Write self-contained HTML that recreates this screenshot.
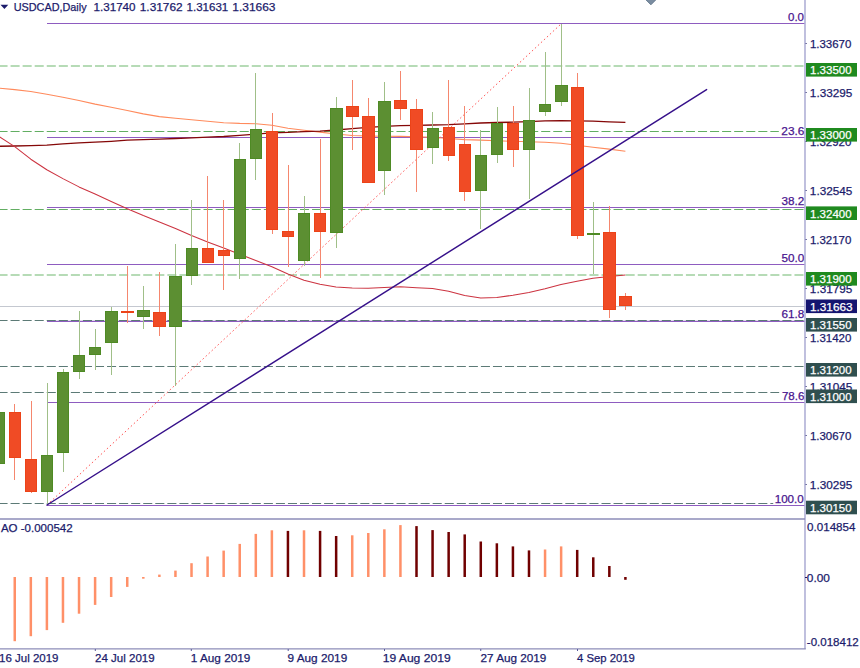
<!DOCTYPE html><html><head><meta charset="utf-8"><style>html,body{margin:0;padding:0;background:#fff;width:860px;height:668px;overflow:hidden}svg{display:block}text{font-family:'Liberation Sans', sans-serif;font-size:11.5px}</style></head><body>
<svg width="860" height="668" viewBox="0 0 860 668">
<rect x="0" y="0" width="860" height="668" fill="#ffffff"/>
<line x1="0" y1="306.5" x2="805" y2="306.5" stroke="#c4c8d0" stroke-width="1.2"/>
<line x1="-1.5" y1="66.0" x2="805" y2="66.0" stroke="#9fd09f" stroke-width="1.6" stroke-dasharray="9.06 3"/>
<line x1="-1.5" y1="131.5" x2="805" y2="131.5" stroke="#62ae62" stroke-width="1.1" stroke-dasharray="9.06 3"/>
<line x1="-1.5" y1="209.5" x2="805" y2="209.5" stroke="#62ae62" stroke-width="1.1" stroke-dasharray="9.06 3"/>
<line x1="-1.5" y1="275.0" x2="805" y2="275.0" stroke="#9fd09f" stroke-width="1.6" stroke-dasharray="9.06 3"/>
<line x1="-1.5" y1="366.5" x2="805" y2="366.5" stroke="#5c7a76" stroke-width="1.2" stroke-dasharray="9.06 3"/>
<line x1="-1.5" y1="392.5" x2="805" y2="392.5" stroke="#5c7a76" stroke-width="1.2" stroke-dasharray="9.06 3"/>
<line x1="-1.5" y1="503.5" x2="805" y2="503.5" stroke="#5c7a76" stroke-width="1.2" stroke-dasharray="9.06 3"/>
<line x1="47" y1="23.5" x2="805" y2="23.5" stroke="#8e5cc0" stroke-width="1.2"/>
<line x1="47" y1="137.5" x2="805" y2="137.5" stroke="#8e5cc0" stroke-width="1.2"/>
<line x1="47" y1="207.5" x2="805" y2="207.5" stroke="#8e5cc0" stroke-width="1.2"/>
<line x1="47" y1="264.5" x2="805" y2="264.5" stroke="#8e5cc0" stroke-width="1.2"/>
<line x1="47" y1="321.4" x2="805" y2="321.4" stroke="#8e5cc0" stroke-width="1.2"/>
<line x1="47" y1="402.5" x2="805" y2="402.5" stroke="#8e5cc0" stroke-width="1.2"/>
<line x1="47" y1="505.5" x2="805" y2="505.5" stroke="#8e5cc0" stroke-width="1.2"/>
<line x1="-1.5" y1="320.5" x2="805" y2="320.5" stroke="#5c7a76" stroke-width="1.0" stroke-dasharray="9.06 3"/>
<polyline points="-1.4,88.1 14.7,89.6 30.8,91.5 46.8,94.3 62.9,97.3 79,100.5 95.1,104.1 111.2,107.2 127.3,110.5 143.3,113.9 159.4,116.6 175.5,118.3 191.5,119.7 207.6,121.2 223.7,122.7 239.7,123.4 255.8,123.7 271.9,125.2 287.9,128.2 304,130.2 320,132.1 336,134.0 352.2,135.5 368.2,136.0 384.3,136.2 400.4,136.4 416.5,136.8 432.5,137.3 448.6,138.5 464.7,139.6 480.7,140.1 496.8,140.7 512.9,141.3 528.9,141.8 545,142.2 561,143.3 577,145.2 593,147.2 609.3,149.1 625.4,151.3" fill="none" stroke="#ff8a5c" stroke-width="1.1" stroke-linejoin="round"/>
<polyline points="-1.4,146.3 14.7,146.0 30.8,145.6 46.8,145.1 62.9,143.9 79,142.9 95.1,142.2 111.2,141.3 127.3,140.2 143.3,139.6 159.4,139.1 175.5,138.5 191.5,137.9 207.6,137.1 223.7,136.5 239.7,135.3 255.8,134.2 271.9,132.9 287.9,132.3 304,131.6 320,131.1 336,130.0 352.2,128.7 368.2,127.4 384.3,126.3 400.4,125.6 416.5,125.3 432.5,125.0 448.6,124.6 464.7,123.8 480.7,123.0 496.8,122.5 512.9,122.2 528.9,121.6 545,120.9 561,120.6 577,120.8 593,121.2 609.3,121.8 625.4,122.3" fill="none" stroke="#850808" stroke-width="1.35" stroke-linejoin="round"/>
<polyline points="-1.4,136.2 14.7,146.6 30.8,159.2 46.8,169.7 62.9,178.6 79,186.9 95.1,194.1 111.2,201.5 127.3,208.8 143.3,215.6 159.4,222.0 175.5,228.6 191.5,235.6 207.6,242.0 223.7,248.0 239.7,254.2 255.8,260.5 271.9,266.8 287.9,274.0 304,280.2 320,284.3 336,286.9 352.2,288.1 368.2,288.3 384.3,287.5 400.4,286.8 416.5,287.8 432.5,288.6 448.6,291.2 464.7,295.5 480.7,298.1 496.8,297.6 512.9,295.2 528.9,292.4 545,288.7 561,284.4 577,281.2 593,278.3 609.3,276.6 625.4,275.1" fill="none" stroke="#cc3340" stroke-width="1.05" stroke-linejoin="round"/>
<line x1="47" y1="505" x2="561.5" y2="23.5" stroke="#ff5a5a" stroke-width="1" stroke-dasharray="1.6 2.5"/>
<rect x="-7" y="412" width="12" height="52" fill="#4e8a24"/>
<rect x="-6" y="413" width="10" height="50" fill="#5c8f32"/>
<rect x="14" y="404" width="1" height="8" fill="#f5876e"/>
<rect x="14" y="458" width="1" height="22" fill="#f5876e"/>
<rect x="9" y="412" width="12" height="46" fill="#ec4318"/>
<rect x="10" y="413" width="10" height="44" fill="#f04b25"/>
<rect x="31" y="401" width="1" height="58" fill="#f5876e"/>
<rect x="31" y="492" width="1" height="1" fill="#f5876e"/>
<rect x="25" y="459" width="12" height="33" fill="#ec4318"/>
<rect x="26" y="460" width="10" height="31" fill="#f04b25"/>
<rect x="47" y="383" width="1" height="72" fill="#a0bf88"/>
<rect x="47" y="492" width="1" height="13" fill="#a0bf88"/>
<rect x="41" y="455" width="12" height="37" fill="#4e8a24"/>
<rect x="42" y="456" width="10" height="35" fill="#5c8f32"/>
<rect x="63" y="369" width="1" height="3" fill="#a0bf88"/>
<rect x="63" y="453" width="1" height="19" fill="#a0bf88"/>
<rect x="57" y="372" width="12" height="81" fill="#4e8a24"/>
<rect x="58" y="373" width="10" height="79" fill="#5c8f32"/>
<rect x="79" y="311" width="1" height="44" fill="#a0bf88"/>
<rect x="79" y="372" width="1" height="7" fill="#a0bf88"/>
<rect x="73" y="355" width="12" height="17" fill="#4e8a24"/>
<rect x="74" y="356" width="10" height="15" fill="#5c8f32"/>
<rect x="95" y="329" width="1" height="18" fill="#a0bf88"/>
<rect x="95" y="355" width="1" height="15" fill="#a0bf88"/>
<rect x="89" y="347" width="12" height="8" fill="#4e8a24"/>
<rect x="90" y="348" width="10" height="6" fill="#5c8f32"/>
<rect x="111" y="307" width="1" height="4" fill="#a0bf88"/>
<rect x="111" y="343" width="1" height="32" fill="#a0bf88"/>
<rect x="105" y="311" width="13" height="32" fill="#4e8a24"/>
<rect x="106" y="312" width="11" height="30" fill="#5c8f32"/>
<rect x="127" y="266" width="1" height="45" fill="#f5876e"/>
<rect x="127" y="313" width="1" height="10" fill="#f5876e"/>
<rect x="121" y="311" width="13" height="2" fill="#ec4318"/>
<rect x="143" y="286" width="1" height="24" fill="#a0bf88"/>
<rect x="143" y="317" width="1" height="12" fill="#a0bf88"/>
<rect x="137" y="310" width="13" height="7" fill="#4e8a24"/>
<rect x="138" y="311" width="11" height="5" fill="#5c8f32"/>
<rect x="159" y="272" width="1" height="40" fill="#f5876e"/>
<rect x="159" y="327" width="1" height="9" fill="#f5876e"/>
<rect x="153" y="312" width="13" height="15" fill="#ec4318"/>
<rect x="154" y="313" width="11" height="13" fill="#f04b25"/>
<rect x="175" y="244" width="1" height="32" fill="#a0bf88"/>
<rect x="175" y="327" width="1" height="59" fill="#a0bf88"/>
<rect x="169" y="276" width="13" height="51" fill="#4e8a24"/>
<rect x="170" y="277" width="11" height="49" fill="#5c8f32"/>
<rect x="191" y="200" width="1" height="48" fill="#a0bf88"/>
<rect x="191" y="276" width="1" height="9" fill="#a0bf88"/>
<rect x="186" y="248" width="12" height="28" fill="#4e8a24"/>
<rect x="187" y="249" width="10" height="26" fill="#5c8f32"/>
<rect x="207" y="176" width="1" height="72" fill="#f5876e"/>
<rect x="202" y="248" width="12" height="15" fill="#ec4318"/>
<rect x="203" y="249" width="10" height="13" fill="#f04b25"/>
<rect x="223" y="200" width="1" height="50" fill="#f5876e"/>
<rect x="223" y="256" width="1" height="34" fill="#f5876e"/>
<rect x="218" y="250" width="12" height="6" fill="#ec4318"/>
<rect x="219" y="251" width="10" height="4" fill="#f04b25"/>
<rect x="239" y="143" width="1" height="16" fill="#a0bf88"/>
<rect x="239" y="259" width="1" height="20" fill="#a0bf88"/>
<rect x="234" y="159" width="12" height="100" fill="#4e8a24"/>
<rect x="235" y="160" width="10" height="98" fill="#5c8f32"/>
<rect x="255" y="73" width="1" height="56" fill="#a0bf88"/>
<rect x="255" y="159" width="1" height="21" fill="#a0bf88"/>
<rect x="250" y="129" width="12" height="30" fill="#4e8a24"/>
<rect x="251" y="130" width="10" height="28" fill="#5c8f32"/>
<rect x="272" y="113" width="1" height="18" fill="#f5876e"/>
<rect x="272" y="230" width="1" height="4" fill="#f5876e"/>
<rect x="266" y="131" width="12" height="99" fill="#ec4318"/>
<rect x="267" y="132" width="10" height="97" fill="#f04b25"/>
<rect x="288" y="165" width="1" height="66" fill="#f5876e"/>
<rect x="288" y="237" width="1" height="30" fill="#f5876e"/>
<rect x="282" y="231" width="12" height="6" fill="#ec4318"/>
<rect x="283" y="232" width="10" height="4" fill="#f04b25"/>
<rect x="304" y="196" width="1" height="17" fill="#a0bf88"/>
<rect x="304" y="261" width="1" height="5" fill="#a0bf88"/>
<rect x="298" y="213" width="12" height="48" fill="#4e8a24"/>
<rect x="299" y="214" width="10" height="46" fill="#5c8f32"/>
<rect x="320" y="139" width="1" height="74" fill="#f5876e"/>
<rect x="320" y="232" width="1" height="46" fill="#f5876e"/>
<rect x="314" y="213" width="12" height="19" fill="#ec4318"/>
<rect x="315" y="214" width="10" height="17" fill="#f04b25"/>
<rect x="336" y="97" width="1" height="11" fill="#a0bf88"/>
<rect x="336" y="233" width="1" height="15" fill="#a0bf88"/>
<rect x="330" y="108" width="13" height="125" fill="#4e8a24"/>
<rect x="331" y="109" width="11" height="123" fill="#5c8f32"/>
<rect x="352" y="80" width="1" height="26" fill="#f5876e"/>
<rect x="352" y="117" width="1" height="33" fill="#f5876e"/>
<rect x="346" y="106" width="13" height="11" fill="#ec4318"/>
<rect x="347" y="107" width="11" height="9" fill="#f04b25"/>
<rect x="368" y="98" width="1" height="18" fill="#f5876e"/>
<rect x="362" y="116" width="13" height="67" fill="#ec4318"/>
<rect x="363" y="117" width="11" height="65" fill="#f04b25"/>
<rect x="384" y="82" width="1" height="19" fill="#a0bf88"/>
<rect x="384" y="171" width="1" height="24" fill="#a0bf88"/>
<rect x="378" y="101" width="13" height="70" fill="#4e8a24"/>
<rect x="379" y="102" width="11" height="68" fill="#5c8f32"/>
<rect x="400" y="71" width="1" height="29" fill="#f5876e"/>
<rect x="400" y="109" width="1" height="11" fill="#f5876e"/>
<rect x="394" y="100" width="13" height="9" fill="#ec4318"/>
<rect x="395" y="101" width="11" height="7" fill="#f04b25"/>
<rect x="416" y="99" width="1" height="10" fill="#f5876e"/>
<rect x="416" y="150" width="1" height="42" fill="#f5876e"/>
<rect x="410" y="109" width="13" height="41" fill="#ec4318"/>
<rect x="411" y="110" width="11" height="39" fill="#f04b25"/>
<rect x="432" y="112" width="1" height="16" fill="#a0bf88"/>
<rect x="432" y="148" width="1" height="16" fill="#a0bf88"/>
<rect x="427" y="128" width="12" height="20" fill="#4e8a24"/>
<rect x="428" y="129" width="10" height="18" fill="#5c8f32"/>
<rect x="448" y="80" width="1" height="47" fill="#f5876e"/>
<rect x="448" y="156" width="1" height="5" fill="#f5876e"/>
<rect x="443" y="127" width="12" height="29" fill="#ec4318"/>
<rect x="444" y="128" width="10" height="27" fill="#f04b25"/>
<rect x="464" y="106" width="1" height="38" fill="#f5876e"/>
<rect x="464" y="192" width="1" height="9" fill="#f5876e"/>
<rect x="459" y="144" width="12" height="48" fill="#ec4318"/>
<rect x="460" y="145" width="10" height="46" fill="#f04b25"/>
<rect x="480" y="130" width="1" height="25" fill="#a0bf88"/>
<rect x="480" y="191" width="1" height="38" fill="#a0bf88"/>
<rect x="475" y="155" width="12" height="36" fill="#4e8a24"/>
<rect x="476" y="156" width="10" height="34" fill="#5c8f32"/>
<rect x="497" y="107" width="1" height="16" fill="#a0bf88"/>
<rect x="497" y="155" width="1" height="8" fill="#a0bf88"/>
<rect x="491" y="123" width="12" height="32" fill="#4e8a24"/>
<rect x="492" y="124" width="10" height="30" fill="#5c8f32"/>
<rect x="513" y="106" width="1" height="17" fill="#f5876e"/>
<rect x="513" y="150" width="1" height="17" fill="#f5876e"/>
<rect x="507" y="123" width="12" height="27" fill="#ec4318"/>
<rect x="508" y="124" width="10" height="25" fill="#f04b25"/>
<rect x="529" y="88" width="1" height="32" fill="#a0bf88"/>
<rect x="529" y="150" width="1" height="49" fill="#a0bf88"/>
<rect x="523" y="120" width="12" height="30" fill="#4e8a24"/>
<rect x="524" y="121" width="10" height="28" fill="#5c8f32"/>
<rect x="545" y="52" width="1" height="52" fill="#a0bf88"/>
<rect x="545" y="112" width="1" height="4" fill="#a0bf88"/>
<rect x="539" y="104" width="12" height="8" fill="#4e8a24"/>
<rect x="540" y="105" width="10" height="6" fill="#5c8f32"/>
<rect x="561" y="24" width="1" height="61" fill="#a0bf88"/>
<rect x="561" y="102" width="1" height="4" fill="#a0bf88"/>
<rect x="555" y="85" width="13" height="17" fill="#4e8a24"/>
<rect x="556" y="86" width="11" height="15" fill="#5c8f32"/>
<rect x="577" y="73" width="1" height="14" fill="#f5876e"/>
<rect x="577" y="236" width="1" height="3" fill="#f5876e"/>
<rect x="571" y="87" width="13" height="149" fill="#ec4318"/>
<rect x="572" y="88" width="11" height="147" fill="#f04b25"/>
<rect x="593" y="202" width="1" height="31" fill="#a0bf88"/>
<rect x="593" y="235" width="1" height="39" fill="#a0bf88"/>
<rect x="587" y="233" width="13" height="2" fill="#4e8a24"/>
<rect x="609" y="206" width="1" height="26" fill="#f5876e"/>
<rect x="609" y="310" width="1" height="8" fill="#f5876e"/>
<rect x="603" y="232" width="13" height="78" fill="#ec4318"/>
<rect x="604" y="233" width="11" height="76" fill="#f04b25"/>
<rect x="625" y="293" width="1" height="3" fill="#f5876e"/>
<rect x="625" y="306" width="1" height="4" fill="#f5876e"/>
<rect x="619" y="296" width="13" height="10" fill="#ec4318"/>
<rect x="620" y="297" width="11" height="8" fill="#f04b25"/>
<line x1="47" y1="505" x2="706.6" y2="89.6" stroke="#36108a" stroke-width="1.45" stroke-linecap="round"/>
<rect x="785.5" y="11" width="19.00" height="11.6" fill="#ffffff"/>
<text x="788.00" y="20.80" textLength="16.00" lengthAdjust="spacingAndGlyphs" fill="#48148e" stroke="#48148e" stroke-width="0.25">0.0</text>
<rect x="778.8" y="125" width="25.70" height="11.6" fill="#ffffff"/>
<text x="781.30" y="134.80" textLength="23.10" lengthAdjust="spacingAndGlyphs" fill="#48148e" stroke="#48148e" stroke-width="0.25">23.6</text>
<rect x="779.1" y="195" width="25.40" height="11.6" fill="#ffffff"/>
<text x="781.60" y="204.80" textLength="22.80" lengthAdjust="spacingAndGlyphs" fill="#48148e" stroke="#48148e" stroke-width="0.25">38.2</text>
<rect x="779.1" y="252" width="25.40" height="11.6" fill="#ffffff"/>
<text x="781.60" y="261.80" textLength="22.80" lengthAdjust="spacingAndGlyphs" fill="#48148e" stroke="#48148e" stroke-width="0.25">50.0</text>
<rect x="779.1" y="308" width="25.40" height="11.6" fill="#ffffff"/>
<text x="781.60" y="317.80" textLength="22.80" lengthAdjust="spacingAndGlyphs" fill="#48148e" stroke="#48148e" stroke-width="0.25">61.8</text>
<rect x="779.4" y="390" width="25.10" height="11.6" fill="#ffffff"/>
<text x="781.90" y="399.80" textLength="22.49" lengthAdjust="spacingAndGlyphs" fill="#48148e" stroke="#48148e" stroke-width="0.25">78.6</text>
<rect x="773.2" y="493" width="31.30" height="11.6" fill="#ffffff"/>
<text x="774.69" y="502.80" textLength="29.09" lengthAdjust="spacingAndGlyphs" fill="#48148e" stroke="#48148e" stroke-width="0.25">100.0</text>
<polygon points="645.6,-0.5 656.2,-0.5 650.9,4.8" fill="#7b8da1" stroke="#546a80" stroke-width="0.8"/>
<polygon points="0.5,4.8 8.3,4.8 4.4,9" fill="#1b1b6b"/>
<text x="13.76" y="11.40" textLength="72.85" lengthAdjust="spacingAndGlyphs" fill="#1b1b6b" stroke="#1b1b6b" stroke-width="0.25">USDCAD,Daily</text>
<text x="93.49" y="11.40" textLength="42.09" lengthAdjust="spacingAndGlyphs" fill="#1b1b6b" stroke="#1b1b6b" stroke-width="0.25">1.31740</text>
<text x="139.77" y="11.40" textLength="42.83" lengthAdjust="spacingAndGlyphs" fill="#1b1b6b" stroke="#1b1b6b" stroke-width="0.25">1.31762</text>
<text x="186.60" y="11.40" textLength="41.68" lengthAdjust="spacingAndGlyphs" fill="#1b1b6b" stroke="#1b1b6b" stroke-width="0.25">1.31631</text>
<text x="232.26" y="11.40" textLength="43.24" lengthAdjust="spacingAndGlyphs" fill="#1b1b6b" stroke="#1b1b6b" stroke-width="0.25">1.31663</text>
<line x1="805" y1="0" x2="805" y2="649" stroke="#b0b0d6" stroke-width="1.6"/>
<line x1="0" y1="519" x2="805" y2="519" stroke="#8d8db8" stroke-width="1.6"/>
<line x1="0" y1="648.9" x2="805.8" y2="648.9" stroke="#8d8db8" stroke-width="1.25"/>
<line x1="805.5" y1="43.5" x2="806.8" y2="43.5" stroke="#50508a" stroke-width="1"/>
<text x="809.90" y="47.80" textLength="41.48" lengthAdjust="spacingAndGlyphs" fill="#1b1b6b" stroke="#1b1b6b" stroke-width="0.25">1.33670</text>
<line x1="805.5" y1="92.5" x2="806.8" y2="92.5" stroke="#50508a" stroke-width="1"/>
<text x="809.88" y="96.80" textLength="42.51" lengthAdjust="spacingAndGlyphs" fill="#1b1b6b" stroke="#1b1b6b" stroke-width="0.25">1.33295</text>
<line x1="805.5" y1="141.5" x2="806.8" y2="141.5" stroke="#50508a" stroke-width="1"/>
<text x="809.90" y="145.80" textLength="41.48" lengthAdjust="spacingAndGlyphs" fill="#1b1b6b" stroke="#1b1b6b" stroke-width="0.25">1.32920</text>
<line x1="805.5" y1="190.5" x2="806.8" y2="190.5" stroke="#50508a" stroke-width="1"/>
<text x="809.88" y="194.80" textLength="42.51" lengthAdjust="spacingAndGlyphs" fill="#1b1b6b" stroke="#1b1b6b" stroke-width="0.25">1.32545</text>
<line x1="805.5" y1="239.5" x2="806.8" y2="239.5" stroke="#50508a" stroke-width="1"/>
<text x="809.90" y="243.80" textLength="41.48" lengthAdjust="spacingAndGlyphs" fill="#1b1b6b" stroke="#1b1b6b" stroke-width="0.25">1.32170</text>
<line x1="805.5" y1="288.5" x2="806.8" y2="288.5" stroke="#50508a" stroke-width="1"/>
<text x="809.88" y="292.80" textLength="42.51" lengthAdjust="spacingAndGlyphs" fill="#1b1b6b" stroke="#1b1b6b" stroke-width="0.25">1.31795</text>
<line x1="805.5" y1="337.5" x2="806.8" y2="337.5" stroke="#50508a" stroke-width="1"/>
<text x="809.90" y="341.80" textLength="41.48" lengthAdjust="spacingAndGlyphs" fill="#1b1b6b" stroke="#1b1b6b" stroke-width="0.25">1.31420</text>
<line x1="805.5" y1="386.5" x2="806.8" y2="386.5" stroke="#50508a" stroke-width="1"/>
<text x="809.88" y="390.80" textLength="42.51" lengthAdjust="spacingAndGlyphs" fill="#1b1b6b" stroke="#1b1b6b" stroke-width="0.25">1.31045</text>
<line x1="805.5" y1="435.5" x2="806.8" y2="435.5" stroke="#50508a" stroke-width="1"/>
<text x="809.90" y="439.80" textLength="41.48" lengthAdjust="spacingAndGlyphs" fill="#1b1b6b" stroke="#1b1b6b" stroke-width="0.25">1.30670</text>
<line x1="805.5" y1="484.5" x2="806.8" y2="484.5" stroke="#50508a" stroke-width="1"/>
<text x="809.88" y="488.80" textLength="42.51" lengthAdjust="spacingAndGlyphs" fill="#1b1b6b" stroke="#1b1b6b" stroke-width="0.25">1.30295</text>
<rect x="806" y="63" width="51" height="13.6" fill="#1f8a1f"/>
<text x="810.00" y="74.20" textLength="41.58" lengthAdjust="spacingAndGlyphs" fill="#ffffff" stroke="#ffffff" stroke-width="0.25">1.33500</text>
<rect x="806" y="128" width="51" height="13.6" fill="#1f8a1f"/>
<text x="810.00" y="139.20" textLength="41.58" lengthAdjust="spacingAndGlyphs" fill="#ffffff" stroke="#ffffff" stroke-width="0.25">1.33000</text>
<rect x="806" y="206.4" width="51" height="13.6" fill="#1f8a1f"/>
<text x="810.00" y="217.60" textLength="41.58" lengthAdjust="spacingAndGlyphs" fill="#ffffff" stroke="#ffffff" stroke-width="0.25">1.32400</text>
<rect x="806" y="272" width="51" height="13.6" fill="#1f8a1f"/>
<text x="810.00" y="283.20" textLength="41.58" lengthAdjust="spacingAndGlyphs" fill="#ffffff" stroke="#ffffff" stroke-width="0.25">1.31900</text>
<rect x="806" y="299.5" width="51" height="13.6" fill="#151570"/>
<text x="809.98" y="310.70" textLength="42.62" lengthAdjust="spacingAndGlyphs" fill="#ffffff" stroke="#ffffff" stroke-width="0.25">1.31663</text>
<rect x="806" y="318" width="51" height="13.6" fill="#2f4f4f"/>
<text x="810.00" y="329.20" textLength="41.58" lengthAdjust="spacingAndGlyphs" fill="#ffffff" stroke="#ffffff" stroke-width="0.25">1.31550</text>
<rect x="806" y="363" width="51" height="13.6" fill="#2f4f4f"/>
<text x="810.00" y="374.20" textLength="41.58" lengthAdjust="spacingAndGlyphs" fill="#ffffff" stroke="#ffffff" stroke-width="0.25">1.31200</text>
<rect x="806" y="389.5" width="51" height="13.6" fill="#2f4f4f"/>
<text x="810.00" y="400.70" textLength="41.58" lengthAdjust="spacingAndGlyphs" fill="#ffffff" stroke="#ffffff" stroke-width="0.25">1.31000</text>
<rect x="806" y="500.7" width="51" height="13.6" fill="#2f4f4f"/>
<text x="810.00" y="511.90" textLength="41.58" lengthAdjust="spacingAndGlyphs" fill="#ffffff" stroke="#ffffff" stroke-width="0.25">1.30150</text>
<rect x="13.50" y="577.0" width="2.5" height="64.20" fill="#ff9068"/>
<rect x="29.57" y="577.0" width="2.5" height="59.20" fill="#ff9068"/>
<rect x="45.64" y="577.0" width="2.5" height="53.10" fill="#ff9068"/>
<rect x="61.71" y="577.0" width="2.5" height="45.80" fill="#ff9068"/>
<rect x="77.78" y="577.0" width="2.5" height="36.70" fill="#ff9068"/>
<rect x="93.85" y="577.0" width="2.5" height="27.90" fill="#ff9068"/>
<rect x="109.92" y="577.0" width="2.5" height="20.00" fill="#ff9068"/>
<rect x="125.99" y="577.0" width="2.5" height="9.90" fill="#ff9068"/>
<rect x="142.06" y="577.0" width="2.5" height="1.70" fill="#ff9068"/>
<rect x="158.13" y="574.6" width="2.5" height="2.40" fill="#ff9068"/>
<rect x="174.20" y="570.6" width="2.5" height="6.40" fill="#ff9068"/>
<rect x="190.27" y="563.2" width="2.5" height="13.80" fill="#ff9068"/>
<rect x="206.34" y="556.5" width="2.5" height="20.50" fill="#ff9068"/>
<rect x="222.41" y="550.6" width="2.5" height="26.40" fill="#ff9068"/>
<rect x="238.48" y="543.9" width="2.5" height="33.10" fill="#ff9068"/>
<rect x="254.55" y="533.9" width="2.5" height="43.10" fill="#ff9068"/>
<rect x="270.62" y="530.3" width="2.5" height="46.70" fill="#ff9068"/>
<rect x="286.69" y="530.9" width="2.5" height="46.10" fill="#700000"/>
<rect x="302.76" y="530.3" width="2.5" height="46.70" fill="#ff9068"/>
<rect x="318.83" y="530.9" width="2.5" height="46.10" fill="#700000"/>
<rect x="334.90" y="536.0" width="2.5" height="41.00" fill="#700000"/>
<rect x="350.97" y="535.3" width="2.5" height="41.70" fill="#ff9068"/>
<rect x="367.04" y="533.0" width="2.5" height="44.00" fill="#ff9068"/>
<rect x="383.11" y="529.3" width="2.5" height="47.70" fill="#ff9068"/>
<rect x="399.18" y="525.1" width="2.5" height="51.90" fill="#ff9068"/>
<rect x="415.25" y="526.1" width="2.5" height="50.90" fill="#700000"/>
<rect x="431.32" y="530.1" width="2.5" height="46.90" fill="#700000"/>
<rect x="447.39" y="532.0" width="2.5" height="45.00" fill="#700000"/>
<rect x="463.46" y="534.4" width="2.5" height="42.60" fill="#700000"/>
<rect x="479.53" y="541.5" width="2.5" height="35.50" fill="#700000"/>
<rect x="495.60" y="543.3" width="2.5" height="33.70" fill="#700000"/>
<rect x="511.67" y="546.4" width="2.5" height="30.60" fill="#700000"/>
<rect x="527.74" y="550.4" width="2.5" height="26.60" fill="#700000"/>
<rect x="543.81" y="549.5" width="2.5" height="27.50" fill="#ff9068"/>
<rect x="559.88" y="546.4" width="2.5" height="30.60" fill="#ff9068"/>
<rect x="575.95" y="549.9" width="2.5" height="27.10" fill="#700000"/>
<rect x="592.02" y="557.3" width="2.5" height="19.70" fill="#700000"/>
<rect x="608.09" y="566.0" width="2.5" height="11.00" fill="#700000"/>
<rect x="624.16" y="577.0" width="2.5" height="2.80" fill="#700000"/>
<text x="0.90" y="532.30" textLength="71.71" lengthAdjust="spacingAndGlyphs" fill="#1b1b6b" stroke="#1b1b6b" stroke-width="0.25">AO -0.000542</text>
<text x="807.10" y="530.90" textLength="48.37" lengthAdjust="spacingAndGlyphs" fill="#1b1b6b" stroke="#1b1b6b" stroke-width="0.25">0.014854</text>
<line x1="805" y1="577.5" x2="807" y2="577.5" stroke="#1b1b6b" stroke-width="1"/>
<text x="806.80" y="581.80" textLength="23.10" lengthAdjust="spacingAndGlyphs" fill="#1b1b6b" stroke="#1b1b6b" stroke-width="0.25">0.00</text>
<text x="806.80" y="645.60" textLength="51.90" lengthAdjust="spacingAndGlyphs" fill="#1b1b6b" stroke="#1b1b6b" stroke-width="0.25">-0.018412</text>
<line x1="-1" y1="649" x2="-1" y2="651" stroke="#5a5a9a" stroke-width="1"/>
<text x="-1.00" y="662.20" textLength="59.47" lengthAdjust="spacingAndGlyphs" fill="#1b1b6b" stroke="#1b1b6b" stroke-width="0.25">16 Jul 2019</text>
<line x1="95.3" y1="649" x2="95.3" y2="651" stroke="#5a5a9a" stroke-width="1"/>
<text x="95.00" y="662.20" textLength="59.72" lengthAdjust="spacingAndGlyphs" fill="#1b1b6b" stroke="#1b1b6b" stroke-width="0.25">24 Jul 2019</text>
<line x1="191.3" y1="649" x2="191.3" y2="651" stroke="#5a5a9a" stroke-width="1"/>
<text x="190.78" y="662.20" textLength="59.63" lengthAdjust="spacingAndGlyphs" fill="#1b1b6b" stroke="#1b1b6b" stroke-width="0.25">1 Aug 2019</text>
<line x1="288.2" y1="649" x2="288.2" y2="651" stroke="#5a5a9a" stroke-width="1"/>
<text x="287.50" y="662.20" textLength="59.71" lengthAdjust="spacingAndGlyphs" fill="#1b1b6b" stroke="#1b1b6b" stroke-width="0.25">9 Aug 2019</text>
<line x1="384.5" y1="649" x2="384.5" y2="651" stroke="#5a5a9a" stroke-width="1"/>
<text x="382.70" y="662.20" textLength="67.93" lengthAdjust="spacingAndGlyphs" fill="#1b1b6b" stroke="#1b1b6b" stroke-width="0.25">19 Aug 2019</text>
<line x1="480.75" y1="649" x2="480.75" y2="651" stroke="#5a5a9a" stroke-width="1"/>
<text x="480.50" y="662.20" textLength="65.86" lengthAdjust="spacingAndGlyphs" fill="#1b1b6b" stroke="#1b1b6b" stroke-width="0.25">27 Aug 2019</text>
<line x1="577.5" y1="649" x2="577.5" y2="651" stroke="#5a5a9a" stroke-width="1"/>
<text x="577.00" y="662.20" textLength="57.85" lengthAdjust="spacingAndGlyphs" fill="#1b1b6b" stroke="#1b1b6b" stroke-width="0.25">4 Sep 2019</text>
</svg></body></html>
